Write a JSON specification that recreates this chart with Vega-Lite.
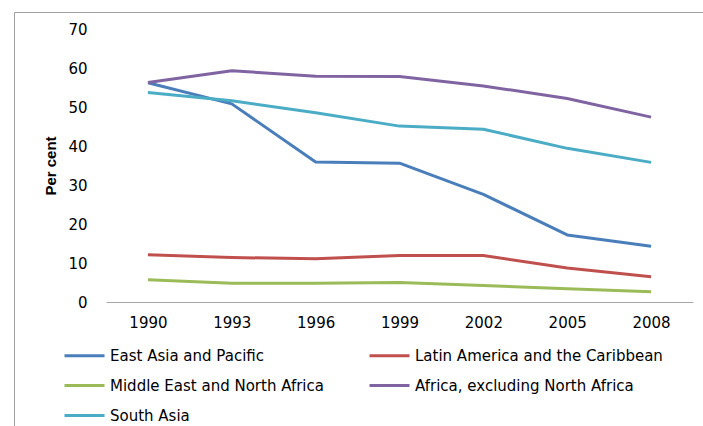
{
  "$schema": "https://vega.github.io/schema/vega-lite/v6.json",
  "width": 699,
  "height": 424,
  "autosize": {"type": "none"},
  "padding": {"left": 14, "top": 12, "right": -10, "bottom": -10},
  "background": "white",
  "config": {
    "view": {"stroke": "#a0a0a0", "strokeWidth": 1},
    "font": "DejaVu Sans",
    "axis": {"grid": false, "ticks": false, "tickSize": 0, "labelColor": "#000000", "labelFontSize": 15, "labelFont": "DejaVu Sans"}
  },
  "data": {
    "values": [
      {"year": "1990", "region": "East Asia and Pacific", "pct": 56.2},
      {"year": "1993", "region": "East Asia and Pacific", "pct": 50.8},
      {"year": "1996", "region": "East Asia and Pacific", "pct": 35.9},
      {"year": "1999", "region": "East Asia and Pacific", "pct": 35.6},
      {"year": "2002", "region": "East Asia and Pacific", "pct": 27.6},
      {"year": "2005", "region": "East Asia and Pacific", "pct": 17.2},
      {"year": "2008", "region": "East Asia and Pacific", "pct": 14.3},
      {"year": "1990", "region": "Latin America and the Caribbean", "pct": 12.1},
      {"year": "1993", "region": "Latin America and the Caribbean", "pct": 11.4},
      {"year": "1996", "region": "Latin America and the Caribbean", "pct": 11.1},
      {"year": "1999", "region": "Latin America and the Caribbean", "pct": 11.9},
      {"year": "2002", "region": "Latin America and the Caribbean", "pct": 11.9},
      {"year": "2005", "region": "Latin America and the Caribbean", "pct": 8.7},
      {"year": "2008", "region": "Latin America and the Caribbean", "pct": 6.5},
      {"year": "1990", "region": "Middle East and North Africa", "pct": 5.7},
      {"year": "1993", "region": "Middle East and North Africa", "pct": 4.8},
      {"year": "1996", "region": "Middle East and North Africa", "pct": 4.8},
      {"year": "1999", "region": "Middle East and North Africa", "pct": 5.0},
      {"year": "2002", "region": "Middle East and North Africa", "pct": 4.2},
      {"year": "2005", "region": "Middle East and North Africa", "pct": 3.4},
      {"year": "2008", "region": "Middle East and North Africa", "pct": 2.6},
      {"year": "1990", "region": "Africa, excluding North Africa", "pct": 56.3},
      {"year": "1993", "region": "Africa, excluding North Africa", "pct": 59.3},
      {"year": "1996", "region": "Africa, excluding North Africa", "pct": 57.9},
      {"year": "1999", "region": "Africa, excluding North Africa", "pct": 57.8},
      {"year": "2002", "region": "Africa, excluding North Africa", "pct": 55.4},
      {"year": "2005", "region": "Africa, excluding North Africa", "pct": 52.2},
      {"year": "2008", "region": "Africa, excluding North Africa", "pct": 47.4},
      {"year": "1990", "region": "South Asia", "pct": 53.7},
      {"year": "1993", "region": "South Asia", "pct": 51.6},
      {"year": "1996", "region": "South Asia", "pct": 48.5},
      {"year": "1999", "region": "South Asia", "pct": 45.1},
      {"year": "2002", "region": "South Asia", "pct": 44.3},
      {"year": "2005", "region": "South Asia", "pct": 39.4},
      {"year": "2008", "region": "South Asia", "pct": 35.8}
    ]
  },
  "mark": {"type": "line", "strokeWidth": 3, "strokeJoin": "round"},
  "encoding": {
    "x": {
      "field": "year",
      "type": "ordinal",
      "scale": {"type": "point", "range": [92, 679], "padding": 0.5},
      "axis": {
        "title": null,
        "labelAngle": 0,
        "offset": -134,
        "domainColor": "#a6a6a6",
        "domainWidth": 1,
        "labelPadding": 13,
        "labelBaseline": "top"
      }
    },
    "y": {
      "field": "pct",
      "type": "quantitative",
      "scale": {"domain": [0, 70], "range": [290, 17], "nice": false},
      "axis": {
        "title": "Per cent",
        "titleFont": "Liberation Sans",
        "titleFontSize": 15,
        "titleFontWeight": "bold",
        "titleColor": "#000000",
        "titlePadding": 9,
        "values": [0, 10, 20, 30, 40, 50, 60, 70],
        "domain": false,
        "offset": -92,
        "labelPadding": 19
      }
    },
    "color": {
      "field": "region",
      "type": "nominal",
      "scale": {
        "domain": ["East Asia and Pacific", "Latin America and the Caribbean", "Middle East and North Africa", "Africa, excluding North Africa", "South Asia"],
        "range": ["#4a7ebb", "#c0504d", "#9bbb59", "#8064a2", "#4bacc6"]
      },
      "legend": {
        "title": null,
        "orient": "none",
        "direction": "horizontal",
        "legendX": 49,
        "legendY": 322,
        "columns": 2,
        "columnPadding": 39,
        "rowPadding": -2.5,
        "symbolType": "stroke",
        "symbolSize": 1600,
        "symbolStrokeWidth": 3,
        "labelOffset": 4,
        "labelFontSize": 15,
        "labelFont": "DejaVu Sans",
        "labelColor": "#000000",
        "labelLimit": 400
      }
    }
  }
}
